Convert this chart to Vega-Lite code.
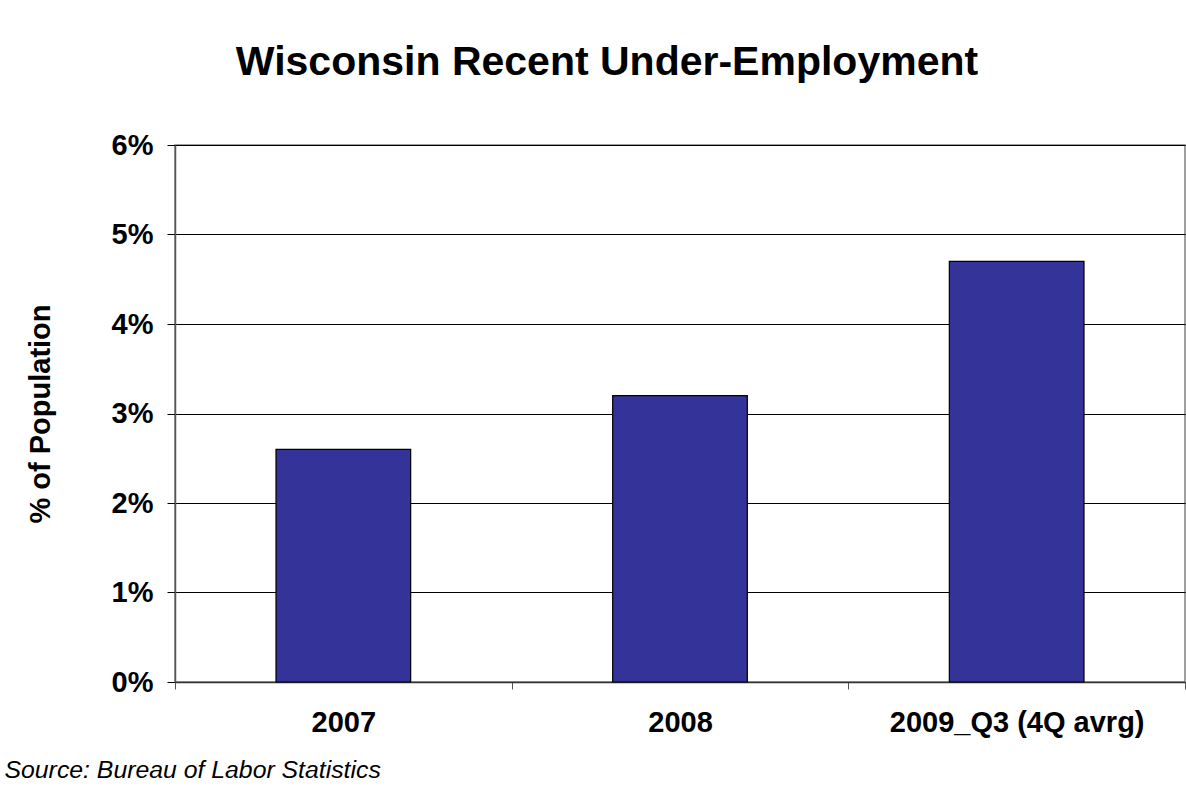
{
  "$schema": "https://vega.github.io/schema/vega-lite/v6.json",
  "autosize": "none",
  "width": 1010,
  "height": 537,
  "padding": {"left": 175, "top": 145, "right": 1, "bottom": 104},
  "background": "white",
  "config": {
    "font": "Liberation Sans",
    "view": {"stroke": "#808080", "strokeWidth": 1.5}
  },
  "title": {
    "text": "Wisconsin Recent Under-Employment",
    "fontSize": 41,
    "fontWeight": "bold",
    "color": "black",
    "font": "Liberation Sans",
    "anchor": "middle",
    "dx": -73,
    "offset": 47
  },
  "data": {
    "values": [
      {"period": "2007", "rate": 0.026},
      {"period": "2008", "rate": 0.032},
      {"period": "2009_Q3 (4Q avrg)", "rate": 0.047}
    ]
  },
  "mark": {"type": "bar", "color": "#333399", "stroke": "black", "strokeWidth": 1.2, "width": {"band": 0.4}},
  "encoding": {
    "x": {
      "field": "period",
      "type": "nominal",
      "sort": null,
      "scale": {"paddingInner": 0, "paddingOuter": 0},
      "axis": {
        "title": "Source: Bureau of Labor Statistics",
        "titleFont": "Liberation Sans",
        "titleFontSize": 24.8,
        "titleFontWeight": "normal",
        "titleFontStyle": "italic",
        "titleColor": "black",
        "titleAnchor": "start",
        "titleAlign": "left",
        "titleBaseline": "alphabetic",
        "titleX": -171,
        "titleY": 95,
        "labelAngle": 0,
        "labelFontSize": 29,
        "labelFontWeight": "bold",
        "labelColor": "black",
        "labelPadding": 19,
        "labelLimit": 0,
        "tickBand": "extent",
        "tickSize": 7,
        "tickColor": "#555555",
        "domainColor": "#333333",
        "domainWidth": 1.5,
        "grid": false
      }
    },
    "y": {
      "field": "rate",
      "type": "quantitative",
      "scale": {"domain": [0, 0.06], "nice": false},
      "axis": {
        "title": "% of Population",
        "titleFontSize": 29,
        "titleFontWeight": "bold",
        "titleColor": "black",
        "titlePadding": 56,
        "values": [0, 0.01, 0.02, 0.03, 0.04, 0.05, 0.06],
        "format": ".0%",
        "labelFontSize": 29,
        "labelFontWeight": "bold",
        "labelColor": "black",
        "labelPadding": 14,
        "tickSize": 8,
        "tickColor": "black",
        "domainColor": "#555555",
        "domainWidth": 1.5,
        "grid": true,
        "gridColor": "black",
        "gridOpacity": 1,
        "gridWidth": 1
      }
    }
  }
}
